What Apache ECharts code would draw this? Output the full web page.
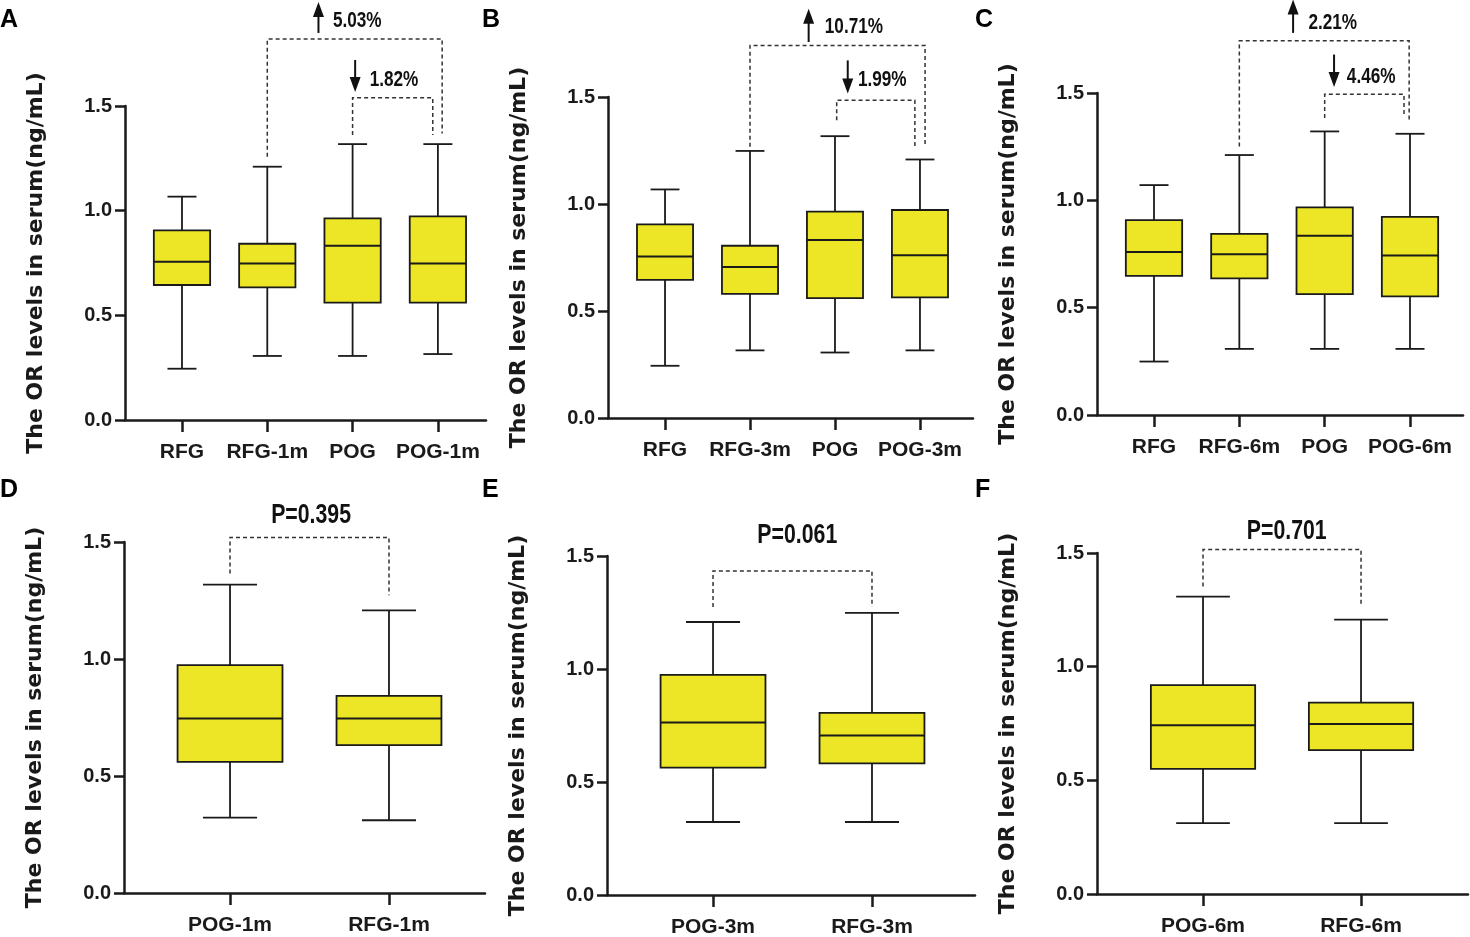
<!DOCTYPE html>
<html><head><meta charset="utf-8">
<script src="https://cdn.jsdelivr.net/npm/echarts@6/dist/echarts.min.js"></script>
<style>html,body{margin:0;padding:0;background:#fff}#c{width:1470px;height:937px}</style>
</head><body><div id="c"></div>
<script>
// ---------- data ----------
const catsA = ['RFG', 'RFG-1m', 'POG', 'POG-1m'];
const catsB = ['RFG', 'RFG-3m', 'POG', 'POG-3m'];
const catsC = ['RFG', 'RFG-6m', 'POG', 'POG-6m'];
const catsD = ['POG-1m', 'RFG-1m'];
const catsE = ['POG-3m', 'RFG-3m'];
const catsF = ['POG-6m', 'RFG-6m'];
// [min, Q1, median, Q3, max]
const boxA = [[0.245, 0.645, 0.756, 0.906, 1.067], [0.306, 0.634, 0.748, 0.842, 1.210], [0.306, 0.561, 0.833, 0.963, 1.318], [0.315, 0.561, 0.748, 0.973, 1.318]];
const boxB = [[0.244, 0.645, 0.755, 0.905, 1.068], [0.316, 0.580, 0.706, 0.805, 1.248], [0.306, 0.560, 0.832, 0.964, 1.317], [0.316, 0.564, 0.760, 0.972, 1.208]];
const boxC = [[0.249, 0.648, 0.759, 0.908, 1.071], [0.308, 0.636, 0.749, 0.844, 1.211], [0.308, 0.563, 0.835, 0.967, 1.321], [0.308, 0.553, 0.743, 0.923, 1.310]];
const boxD = [[0.322, 0.560, 0.746, 0.974, 1.318], [0.311, 0.632, 0.746, 0.842, 1.208]];
const boxE = [[0.323, 0.564, 0.763, 0.974, 1.208], [0.323, 0.582, 0.706, 0.806, 1.248]];
const boxF = [[0.312, 0.550, 0.742, 0.919, 1.308], [0.312, 0.633, 0.748, 0.842, 1.207]];
const yTickValues = [0, 0.5, 1.0, 1.5];
const yAxisTitle = 'The OR levels in serum(ng/mL)';
const panelLetters = ['A', 'B', 'C', 'D', 'E', 'F'];
// brackets: [xFrom, xTo, yTop, yLegFrom, yLegTo]  (data units)
const bracketsA = [[2, 4.05, 1.82, 1.258, 1.369], [3, 3.94, 1.54, 1.361, 1.361]];
const bracketsB = [[2, 4.06, 1.741, 1.267, 1.267], [3.02, 3.94, 1.485, 1.391, 1.259]];
const bracketsC = [[2, 3.99, 1.743, 1.251, 1.368], [3, 3.93, 1.494, 1.383, 1.39]];
const bracketsD = [[1, 2, 1.519, 1.365, 1.272]];
const bracketsE = [[1, 2, 1.434, 1.274, 1.274]];
const bracketsF = [[1, 2, 1.515, 1.353, 1.265]];
// arrows: [x, yTail, yHead]
const arrowsA = [[2.60, 1.849, 1.997], [3.03, 1.72, 1.567]];
const arrowsB = [[2.69, 1.757, 1.912], [3.15, 1.671, 1.516]];
const arrowsC = [[2.63, 1.78, 1.935], [3.11, 1.679, 1.528]];
// percentage labels: [xLeft, y, text]
const pctA = [[2.77, 1.906, '5.03%'], [3.20, 1.624, '1.82%']];
const pctB = [[2.88, 1.826, '10.71%'], [3.27, 1.578, '1.99%']];
const pctC = [[2.81, 1.826, '2.21%'], [3.26, 1.575, '4.46%']];
// p-value labels: [xCenter, y, text]
const pD = [[1.51, 1.614, 'P=0.395']];
const pE = [[1.53, 1.591, 'P=0.061']];
const pF = [[1.53, 1.595, 'P=0.701']];

// ---------- layout ----------
const panels = [
  { cats: catsA, box: boxA, br: bracketsA, ar: arrowsA, pct: pctA, pv: [], xMin: 0.332, xMax: 4.564, grid: { left: 125, top: 106, width: 361, height: 314 }, letter: [0, 8] },
  { cats: catsB, box: boxB, br: bracketsB, ar: arrowsB, pct: pctB, pv: [], xMin: 0.329, xMax: 4.624, grid: { left: 608, top: 97, width: 365, height: 321 }, letter: [482, 8] },
  { cats: catsC, box: boxC, br: bracketsC, ar: arrowsC, pct: pctC, pv: [], xMin: 0.332, xMax: 4.621, grid: { left: 1097, top: 93, width: 366, height: 322 }, letter: [975, 8] },
  { cats: catsD, box: boxD, br: bracketsD, ar: [], pct: [], pv: pD, xMin: 0.333, xMax: 2.604, grid: { left: 124, top: 542, width: 361, height: 351 }, letter: [0, 478] },
  { cats: catsE, box: boxE, br: bracketsE, ar: [], pct: [], pv: pE, xMin: 0.333, xMax: 2.648, grid: { left: 607, top: 556, width: 368, height: 339 }, letter: [482, 478] },
  { cats: catsF, box: boxF, br: bracketsF, ar: [], pct: [], pv: pF, xMin: 0.329, xMax: 2.677, grid: { left: 1097, top: 553, width: 371, height: 341 }, letter: [975, 478] }
];

const INK = '#1a1a1a';
const YELLOW = '#ECE626';
const BOX_W = 0.66, CAP_W = 0.34;
const tickFont = 'Liberation Sans, Arial, sans-serif';
const annoFont = '"Liberation Sans", Arial, sans-serif';

const grids = [], xAxes = [], yAxes = [], series = [], graphics = [];

panels.forEach((p, k) => {
  grids.push(Object.assign({ outerBoundsMode: 'none', containLabel: false }, p.grid));
  const cats = p.cats;
  const intPos = cats.map((c, i) => i + 1);
  xAxes.push({
    gridIndex: k, type: 'value', min: p.xMin, max: p.xMax,
    axisLine: { show: true, onZero: false, lineStyle: { color: INK, width: 2.5 } },
    axisTick: { show: true, customValues: intPos, length: 12, inside: false, lineStyle: { color: INK, width: 2.5 } },
    axisLabel: { show: true, customValues: intPos, margin: 22, color: INK, fontFamily: tickFont, fontWeight: 'bold', fontSize: 21,
      formatter: v => cats[Math.round(v) - 1] || '' },
    splitLine: { show: false }
  });
  yAxes.push({
    gridIndex: k, type: 'value', min: 0, max: 1.5, interval: 0.5,
    axisLine: { show: true, lineStyle: { color: INK, width: 2.5 } },
    axisTick: { show: true, length: 10, inside: false, lineStyle: { color: INK, width: 2.5 } },
    axisLabel: { show: true, margin: 13, color: INK, fontFamily: tickFont, fontWeight: 'bold', fontSize: 20,
      formatter: v => yTickValues.indexOf(+v.toFixed(2)) >= 0 ? Number(v).toFixed(1) : '' },
    splitLine: { show: false },
    name: yAxisTitle, nameLocation: 'middle', nameRotate: 90, nameGap: 78,
    nameTextStyle: { color: INK, fontFamily: 'DejaVu Sans', fontWeight: 'bold', fontSize: 22 }
  });

  // boxes
  series.push({
    type: 'custom', xAxisIndex: k, yAxisIndex: k, silent: true, clip: false,
    data: p.box.map((b, i) => [i + 1].concat(b)),
    encode: { x: 0, y: [1, 2, 3, 4, 5] },
    renderItem: (params, api) => {
      const x = api.value(0);
      const unit = api.size([1, 0])[0];
      const bw = unit * BOX_W / 2, cw = unit * CAP_W / 2;
      const pMin = api.coord([x, api.value(1)]);
      const pQ1 = api.coord([x, api.value(2)]);
      const pMed = api.coord([x, api.value(3)]);
      const pQ3 = api.coord([x, api.value(4)]);
      const pMax = api.coord([x, api.value(5)]);
      const cx = pMed[0];
      const ls = { stroke: INK, lineWidth: 1.8 };
      return { type: 'group', children: [
        { type: 'line', shape: { x1: cx, y1: pQ3[1], x2: cx, y2: pMax[1] }, style: ls },
        { type: 'line', shape: { x1: cx, y1: pQ1[1], x2: cx, y2: pMin[1] }, style: ls },
        { type: 'line', shape: { x1: cx - cw, y1: pMax[1], x2: cx + cw, y2: pMax[1] }, style: ls },
        { type: 'line', shape: { x1: cx - cw, y1: pMin[1], x2: cx + cw, y2: pMin[1] }, style: ls },
        { type: 'rect', shape: { x: cx - bw, y: pQ3[1], width: 2 * bw, height: pQ1[1] - pQ3[1] }, style: { fill: YELLOW, stroke: INK, lineWidth: 1.8 } },
        { type: 'line', shape: { x1: cx - bw, y1: pMed[1], x2: cx + bw, y2: pMed[1] }, style: { stroke: INK, lineWidth: 2 } }
      ] };
    }
  });

  // brackets
  series.push({
    type: 'custom', xAxisIndex: k, yAxisIndex: k, silent: true, clip: false,
    data: p.br,
    renderItem: (params, api) => {
      const a = api.coord([api.value(0), api.value(3)]);
      const b = api.coord([api.value(0), api.value(2)]);
      const c = api.coord([api.value(1), api.value(2)]);
      const d = api.coord([api.value(1), api.value(4)]);
      return { type: 'polyline', shape: { points: [a, b, c, d] }, style: { stroke: '#333', lineWidth: 1.5, lineDash: [4, 3], fill: null } };
    }
  });

  // arrows
  if (p.ar.length) series.push({
    type: 'custom', xAxisIndex: k, yAxisIndex: k, silent: true, clip: false,
    data: p.ar,
    renderItem: (params, api) => {
      const t = api.coord([api.value(0), api.value(1)]);
      const h = api.coord([api.value(0), api.value(2)]);
      const dir = h[1] < t[1] ? -1 : 1;
      const hl = 15, hw = 5.5;
      return { type: 'group', children: [
        { type: 'line', shape: { x1: t[0], y1: t[1], x2: h[0], y2: h[1] - dir * hl + dir * 1 }, style: { stroke: '#111', lineWidth: 2 } },
        { type: 'polygon', shape: { points: [[h[0], h[1]], [h[0] - hw, h[1] - dir * hl], [h[0] + hw, h[1] - dir * hl]] }, style: { fill: '#111' } }
      ] };
    }
  });

  // percentage labels (condensed bold)
  if (p.pct.length) series.push({
    type: 'custom', xAxisIndex: k, yAxisIndex: k, silent: true, clip: false,
    data: p.pct.map(d => [d[0], d[1]]),
    renderItem: (params, api) => {
      const pt = api.coord([api.value(0), api.value(1)]);
      return { type: 'text', x: pt[0], y: pt[1], scaleX: 0.78, scaleY: 1,
        style: { text: p.pct[params.dataIndex][2], x: 0, y: 0, align: 'left', verticalAlign: 'middle',
          fill: '#111', font: 'bold 22px ' + annoFont } };
    }
  });

  // p-value labels (condensed bold)
  if (p.pv.length) series.push({
    type: 'custom', xAxisIndex: k, yAxisIndex: k, silent: true, clip: false,
    data: p.pv.map(d => [d[0], d[1]]),
    renderItem: (params, api) => {
      const pt = api.coord([api.value(0), api.value(1)]);
      return { type: 'text', x: pt[0], y: pt[1], scaleX: 0.76, scaleY: 1,
        style: { text: p.pv[params.dataIndex][2], x: 0, y: 0, align: 'center', verticalAlign: 'middle',
          fill: '#111', font: 'bold 28px ' + annoFont } };
    }
  });

  graphics.push({ type: 'text', left: p.letter[0], top: p.letter[1],
    style: { text: panelLetters[k], fill: '#000', font: 'bold 25px "Liberation Sans", Arial, sans-serif' } });
});

const chart = echarts.init(document.getElementById('c'), null, { renderer: 'canvas' });
chart.setOption({
  backgroundColor: '#fff',
  animation: false,
  grid: grids, xAxis: xAxes, yAxis: yAxes, series: series, graphic: graphics
});
</script></body></html>
